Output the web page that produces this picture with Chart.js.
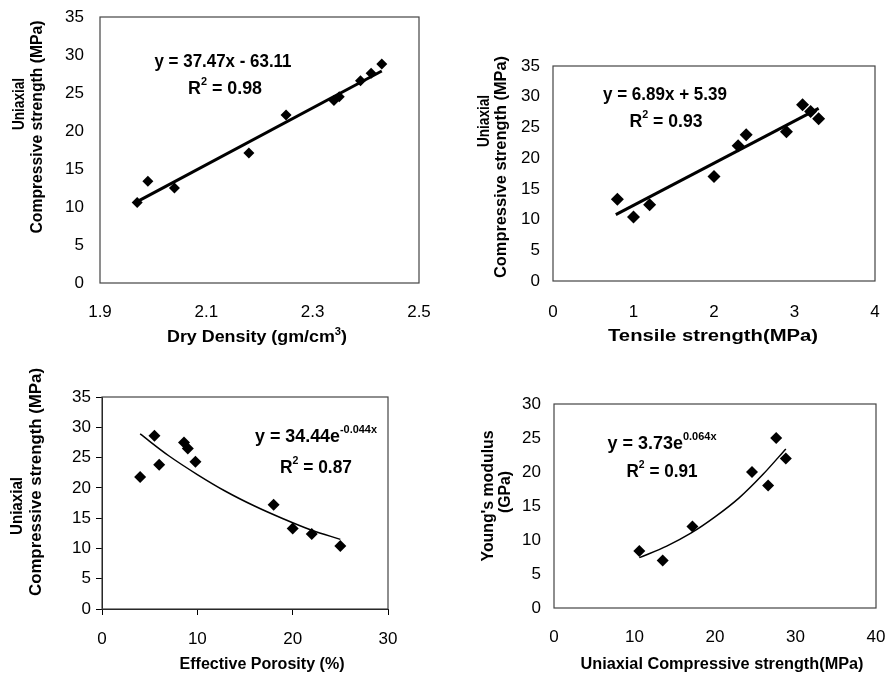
<!DOCTYPE html>
<html>
<head>
<meta charset="utf-8">
<title>Rock strength correlations</title>
<script src="https://cdn.jsdelivr.net/npm/chart.js@4.4.1/dist/chart.umd.min.js"></script>
<style>
    body { margin: 0; background: #fff; }
    #page { position: relative; width: 889px; height: 679px; overflow: hidden; }
    #page canvas { position: absolute; }
</style>
</head>
<body>
<div id="page">
    <canvas id="densityChart" width="445" height="350" style="left:0;top:0"></canvas>
    <canvas id="tensileChart" width="444" height="350" style="left:445px;top:0"></canvas>
    <canvas id="porosityChart" width="445" height="329" style="left:0;top:350px"></canvas>
    <canvas id="modulusChart" width="444" height="329" style="left:445px;top:350px"></canvas>
</div>
<script>
// ---- values ----
// UCS vs dry density
const densityValues = [1.97, 1.99, 2.04, 2.18, 2.25, 2.34, 2.35, 2.39, 2.41, 2.43];
const densityUcs    = [10.6, 13.4, 12.5, 17.1, 22.1, 24.0, 24.5, 26.6, 27.6, 28.8];
const densityFitX   = [1.97, 2.43];
const densityFitY   = [10.7, 27.9];
const densityTicks  = [1.9, 2.1, 2.3, 2.5];

// UCS vs tensile strength
const tensileValues = [0.8, 1.0, 1.2, 2.0, 2.3, 2.4, 2.9, 3.1, 3.2, 3.3];
const tensileUcs    = [13.3, 10.4, 12.4, 17.0, 22.0, 23.8, 24.3, 28.7, 27.6, 26.4];
const tensileFitX   = [0.78, 3.3];
const tensileFitY   = [10.8, 28.1];
const tensileTicks  = [0, 1, 2, 3, 4];

// UCS vs effective porosity
const porosityValues = [4, 5.5, 6, 8.6, 9, 9.8, 18, 20, 22, 25];
const porosityUcs    = [21.8, 28.6, 23.8, 27.5, 26.5, 24.3, 17.2, 13.3, 12.4, 10.4];
const porosityFitX   = [4, 7, 10, 13, 16, 19, 22, 25];
const porosityFitY   = [28.9, 25.3, 22.2, 19.4, 17.0, 14.9, 13.0, 11.5];
const porosityTicks  = [0, 10, 20, 30];

// Young's modulus vs UCS
const modulusUcs    = [10.6, 13.5, 17.2, 24.6, 26.6, 27.6, 28.8];
const modulusValues = [8.4, 7.0, 12.0, 20.0, 18.0, 25.0, 22.0];
const modulusFitX   = [10.6, 14, 17, 20, 23, 26, 28.8];
const modulusFitY   = [7.4, 9.1, 11.0, 13.4, 16.2, 19.7, 23.4];
const modulusTicks  = [0, 10, 20, 30, 40];

const ucsTicks      = [0, 5, 10, 15, 20, 25, 30, 35];
const modulusYTicks = [0, 5, 10, 15, 20, 25, 30];

const FONT = '"Liberation Sans", Arial, sans-serif';

// Titles and equations, in page coordinates (parts: [text, isSuperscript])
const panelTexts = {
    densityChart: { ox: 0, oy: 0, items: [
        { parts: [['y = 37.47x - 63.11']], x: 223, y: 62, w: 137, size: 18 },
        { parts: [['R'], ['2', 1], [' = 0.98']], x: 225, y: 89, w: 74, size: 18 },
        { parts: [['Dry Density (gm/cm'], ['3', 1], [')']], x: 257, y: 338, w: 180, size: 16 },
        { parts: [['Uniaxial']], x: 20, y: 104, w: 52, size: 16, rot: true },
        { parts: [['Compressive strength (MPa)']], x: 38, y: 127, w: 213, size: 16, rot: true }
    ]},
    tensileChart: { ox: 445, oy: 0, items: [
        { parts: [['y = 6.89x + 5.39']], x: 665, y: 95, w: 124, size: 18 },
        { parts: [['R'], ['2', 1], [' = 0.93']], x: 666, y: 122, w: 73, size: 18 },
        { parts: [['Tensile strength(MPa)']], x: 713, y: 337, w: 210, size: 16 },
        { parts: [['Uniaxial']], x: 485, y: 121, w: 52, size: 16, rot: true },
        { parts: [['Compressive strength (MPa)']], x: 502, y: 167, w: 222, size: 16, rot: true }
    ]},
    porosityChart: { ox: 0, oy: 350, items: [
        { parts: [['y = 34.44e'], ['-0.044x', 1]], x: 316, y: 437, w: 122, size: 18 },
        { parts: [['R'], ['2', 1], [' = 0.87']], x: 316, y: 468, w: 72, size: 18 },
        { parts: [['Effective Porosity (%)']], x: 262, y: 665, w: 165, size: 16 },
        { parts: [['Uniaxial']], x: 18, y: 506, w: 58, size: 16, rot: true },
        { parts: [['Compressive strength (MPa)']], x: 37, y: 482, w: 228, size: 16, rot: true }
    ]},
    modulusChart: { ox: 445, oy: 350, items: [
        { parts: [['y = 3.73e'], ['0.064x', 1]], x: 662, y: 444, w: 109, size: 18 },
        { parts: [['R'], ['2', 1], [' = 0.91']], x: 662, y: 472, w: 71, size: 18 },
        { parts: [['Uniaxial Compressive strength(MPa)']], x: 722, y: 665, w: 283, size: 16 },
        { parts: [["Young's modulus"]], x: 489, y: 496, w: 131, size: 16, rot: true },
        { parts: [['(GPa)']], x: 506, y: 492, w: 42, size: 16, rot: true }
    ]}
};

function drawRich(ctx, item, ox, oy) {
    const size = item.size;
    const base = `bold ${size}px ${FONT}`;
    const small = `bold ${Math.round(size * 0.62)}px ${FONT}`;
    let total = 0;
    const widths = item.parts.map(p => {
        ctx.font = p[1] ? small : base;
        const w = ctx.measureText(p[0]).width;
        total += w;
        return w;
    });
    const sx = item.w ? item.w / total : 1;
    ctx.save();
    ctx.translate(item.x - ox, item.y - oy);
    if (item.rot) ctx.rotate(-Math.PI / 2);
    ctx.scale(sx, 1);
    ctx.fillStyle = '#000';
    ctx.textBaseline = 'middle';
    ctx.textAlign = 'left';
    let cx = -total / 2;
    item.parts.forEach((p, i) => {
        ctx.font = p[1] ? small : base;
        ctx.fillText(p[0], cx, p[1] ? -size * 0.38 : 0);
        cx += widths[i];
    });
    ctx.restore();
}

// plot-area box like the spreadsheet frame
const framePlugin = {
    id: 'frame',
    beforeDatasetsDraw(chart) {
        const { ctx, chartArea: a } = chart;
        ctx.save();
        ctx.strokeStyle = '#444';
        ctx.lineWidth = 1.2;
        ctx.strokeRect(a.left, a.top, a.right - a.left, a.bottom - a.top);
        ctx.restore();
    }
};

const textPlugin = {
    id: 'panelText',
    afterDraw(chart) {
        const spec = panelTexts[chart.canvas.id];
        if (!spec) return;
        spec.items.forEach(it => drawRich(chart.ctx, it, spec.ox, spec.oy));
    }
};

function toPoints(xs, ys) {
    return xs.map((v, i) => ({ x: v, y: ys[i] }));
}

function buildPanel(id, cfg) {
    const tickFont = { family: FONT, size: 17 };
    const axisLine = cfg.axisTicks
        ? { display: true, drawOnChartArea: false, drawTicks: true, tickLength: 6, color: '#000', lineWidth: 1 }
        : { display: false, drawTicks: false, tickLength: 0 };
    return new Chart(document.getElementById(id), {
        type: 'scatter',
        data: {
            datasets: [
                {
                    data: toPoints(cfg.x, cfg.y),
                    pointStyle: 'rectRot',
                    pointRadius: cfg.marker,
                    backgroundColor: '#000',
                    borderWidth: 0,
                    order: 2
                },
                {
                    data: toPoints(cfg.fitX, cfg.fitY),
                    showLine: true,
                    borderColor: '#000',
                    borderWidth: cfg.lineWidth,
                    pointRadius: 0,
                    cubicInterpolationMode: cfg.curved ? 'monotone' : 'default',
                    order: 1
                }
            ]
        },
        options: {
            responsive: false,
            animation: false,
            layout: { padding: cfg.padding },
            plugins: { legend: { display: false }, tooltip: { enabled: false } },
            scales: {
                x: {
                    type: 'linear',
                    min: cfg.xTicks[0],
                    max: cfg.xTicks[cfg.xTicks.length - 1],
                    afterBuildTicks: s => { s.ticks = cfg.xTicks.map(v => ({ value: v })); },
                    // fixed axis band; label overhang must not shrink the plot area
                    afterFit: s => { s.height = cfg.xHeight; s.paddingLeft = 0; s.paddingRight = 0; },
                    ticks: {
                        font: tickFont, color: '#000', padding: cfg.xPad,
                        maxRotation: 0, autoSkip: false,
                        callback: v => cfg.xFormat ? v.toFixed(1) : String(v)
                    },
                    grid: axisLine,
                    border: { display: !!cfg.axisTicks, color: '#000', width: 1 }
                },
                y: {
                    type: 'linear',
                    min: cfg.yTicks[0],
                    max: cfg.yTicks[cfg.yTicks.length - 1],
                    afterBuildTicks: s => { s.ticks = cfg.yTicks.map(v => ({ value: v })); },
                    afterFit: s => { s.width = cfg.yWidth; s.paddingTop = 0; s.paddingBottom = 0; },
                    ticks: { font: tickFont, color: '#000', padding: cfg.yPad, autoSkip: false },
                    grid: axisLine,
                    border: { display: !!cfg.axisTicks, color: '#000', width: 1 }
                }
            }
        },
        plugins: [framePlugin, textPlugin]
    });
}

document.addEventListener("DOMContentLoaded", () => {
    buildPanel('densityChart', {
        x: densityValues, y: densityUcs, fitX: densityFitX, fitY: densityFitY,
        xTicks: densityTicks, yTicks: ucsTicks, xFormat: true,
        marker: 5.5, lineWidth: 3,
        padding: { left: 0, top: 17, right: 26, bottom: 0 },
        yWidth: 100, xHeight: 67, xPad: 19, yPad: 16
    });
    buildPanel('tensileChart', {
        x: tensileValues, y: tensileUcs, fitX: tensileFitX, fitY: tensileFitY,
        xTicks: tensileTicks, yTicks: ucsTicks,
        marker: 6.5, lineWidth: 3,
        padding: { left: 0, top: 66, right: 14, bottom: 0 },
        yWidth: 108, xHeight: 69, xPad: 21, yPad: 13
    });
    buildPanel('porosityChart', {
        x: porosityValues, y: porosityUcs, fitX: porosityFitX, fitY: porosityFitY,
        xTicks: porosityTicks, yTicks: ucsTicks, curved: true, axisTicks: true,
        marker: 6, lineWidth: 1.5,
        padding: { left: 0, top: 47, right: 57, bottom: 0 },
        yWidth: 102, xHeight: 70, xPad: 14, yPad: 5
    });
    buildPanel('modulusChart', {
        x: modulusUcs, y: modulusValues, fitX: modulusFitX, fitY: modulusFitY,
        xTicks: modulusTicks, yTicks: modulusYTicks, curved: true,
        marker: 6, lineWidth: 1.5,
        padding: { left: 0, top: 54, right: 13, bottom: 0 },
        yWidth: 109, xHeight: 71, xPad: 19, yPad: 13
    });
});
</script>
</body>
</html>
